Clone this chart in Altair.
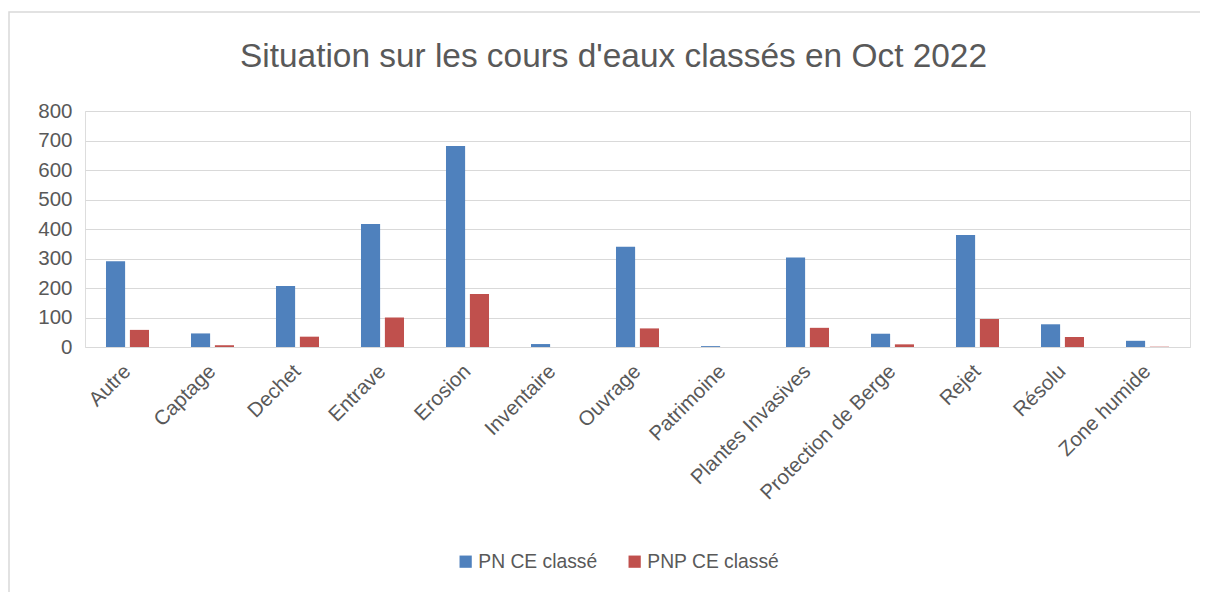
import altair as alt
import pandas as pd

categories = ["Autre", "Captage", "Dechet", "Entrave", "Erosion", "Inventaire",
              "Ouvrage", "Patrimoine", "Plantes Invasives", "Protection de Berge",
              "Rejet", "Résolu", "Zone humide"]
pn_ce_classe = [291, 46, 207, 417, 681, 10, 340, 3, 303, 45, 380, 77, 21]
pnp_ce_classe = [58, 6, 35, 100, 180, 0, 63, 0, 65, 9, 95, 34, 1]
series = ["PN CE classé", "PNP CE classé"]
colors = ["#4f81bd", "#c0504d"]
y_ticks = [0, 100, 200, 300, 400, 500, 600, 700, 800]

rows = []
for c, a, b in zip(categories, pn_ce_classe, pnp_ce_classe):
    rows.append({"cat": c, "serie": series[0], "val": a})
    rows.append({"cat": c, "serie": series[1], "val": b})
df = pd.DataFrame(rows)

FONT = "Liberation Sans"
TXT = "#595959"

bars = alt.Chart(df).mark_bar().encode(
    x=alt.X("cat:N", sort=categories, title=None,
            scale=alt.Scale(paddingInner=0.494, paddingOuter=0.247),
            axis=alt.Axis(labelAngle=-45, labelAlign="right", labelBaseline="middle",
                          labelFontSize=20.5, labelColor=TXT, labelFont=FONT,
                          labelLimit=400, labelOverlap=False,
                          ticks=False, domain=False, labelPadding=21, grid=False)),
    xOffset=alt.XOffset("serie:N", sort=series,
                        scale=alt.Scale(paddingInner=0.2, paddingOuter=0)),
    y=alt.Y("val:Q", title=None,
            scale=alt.Scale(domain=[0, 800], nice=False),
            axis=alt.Axis(values=y_ticks, labelFontSize=20.5, labelColor=TXT, labelFont=FONT,
                          ticks=False, domain=False, labelPadding=13,
                          gridColor="#d9d9d9", gridWidth=1)),
    color=alt.Color("serie:N", sort=series,
                    scale=alt.Scale(domain=series, range=colors),
                    legend=alt.Legend(title=None, orient="none", legendX=371, legendY=441,
                                      direction="horizontal", symbolType="square",
                                      symbolSize=150, symbolStrokeWidth=0,
                                      labelFontSize=19.3, labelColor=TXT, labelFont=FONT,
                                      columnPadding=27, symbolOffset=0, labelOffset=3)),
)

frame_df = pd.DataFrame({"k": [1]})
frame = alt.Chart(frame_df).mark_rect(fill=None, stroke="#d9d9d9", strokeWidth=1.5).encode(
    x=alt.value(-76), x2=alt.value(1135), y=alt.value(-99), y2=alt.value(500)
)

chart = alt.layer(frame, bars).properties(
    width=1105, height=236,
    title=alt.Title("Situation sur les cours d'eaux classés en Oct 2022",
                    fontSize=33.4, color=TXT, font=FONT, fontWeight="normal",
                    anchor="middle", frame="group", offset=0, baseline="alphabetic",
                    dy=89, dx=-24),
    autosize=alt.AutoSizeParams(type="none"),
    padding={"left": 77, "top": 103, "right": 10, "bottom": 245},
).configure_view(stroke=None).configure(background="white")

chart.save("out.html", embed_options={"renderer": "svg", "actions": False})
